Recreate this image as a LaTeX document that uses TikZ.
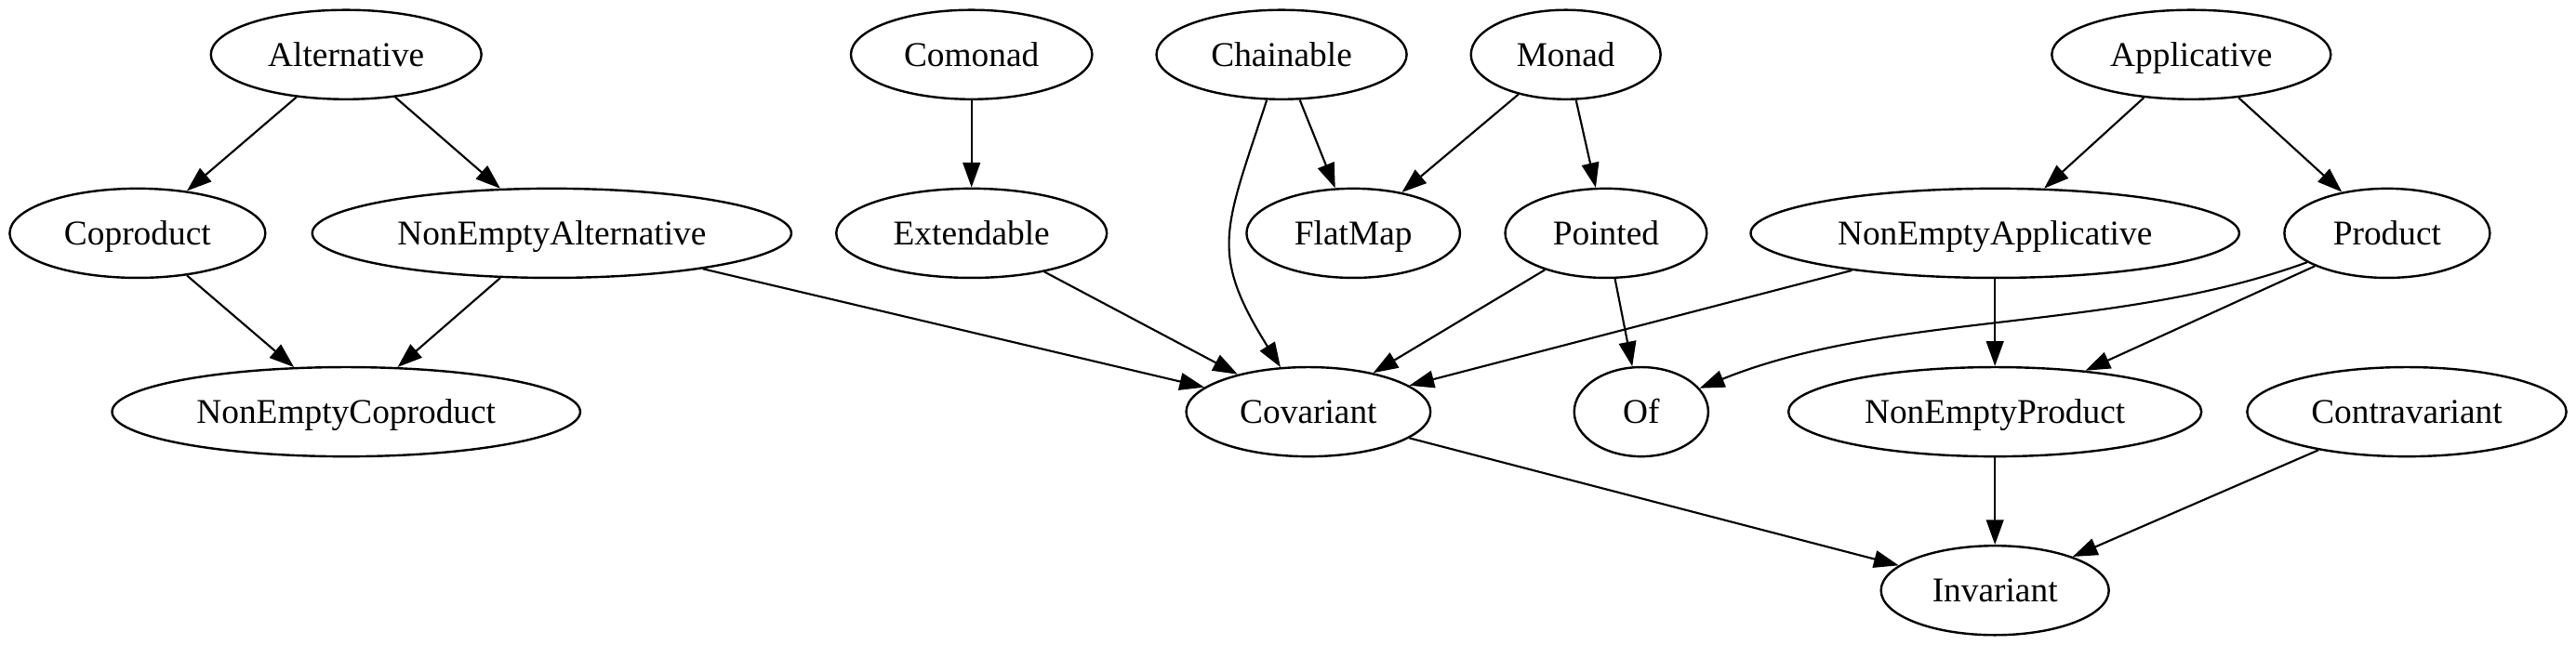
\documentclass[tikz,border=0pt]{standalone}
\usepackage{fontspec}
\setmainfont{Liberation Serif}
\usetikzlibrary{shapes.geometric,arrows.meta}
\begin{document}
\begin{tikzpicture}[x=1pt,y=1pt,
  nd/.style={ellipse, draw, line width=0.9pt, inner sep=0pt, minimum height=36pt, text height=10.2pt, text depth=1pt, font=\fontsize{14}{16}\selectfont},
  edge/.style={line width=0.8pt, -{Triangle[length=10pt,width=7pt]}}]
\useasboundingbox (0,0) rectangle (1037.8,-260);
% rank 1
\node[nd, minimum width=109pt]   (alt)    at (139.45,-22) {Alternative};
\node[nd, minimum width=97.2pt]  (comon)  at (391.4,-22)  {Comonad};
\node[nd, minimum width=100.8pt] (chain)  at (516.3,-22)  {Chainable};
\node[nd, minimum width=76.4pt]  (monad)  at (630.8,-22)  {Monad};
\node[nd, minimum width=112.4pt] (app)    at (882.8,-22)  {Applicative};
% rank 2
\node[nd, minimum width=103pt]   (coprod) at (55.4,-94)   {Coproduct};
\node[nd, minimum width=193pt]   (nea)    at (222.3,-94)  {NonEmptyAlternative};
\node[nd, minimum width=109pt]   (ext)    at (391.4,-94)  {Extendable};
\node[nd, minimum width=86pt]    (flat)   at (545.2,-94)  {FlatMap};
\node[nd, minimum width=81.2pt]  (point)  at (647,-94)    {Pointed};
\node[nd, minimum width=196.8pt] (nap)    at (803.7,-94)  {NonEmptyApplicative};
\node[nd, minimum width=82.8pt]  (prod)   at (961.7,-94)  {Product};
% rank 3
\node[nd, minimum width=188.6pt] (nec)    at (139.45,-166) {NonEmptyCoproduct};
\node[nd, minimum width=98.4pt]  (cov)    at (527.1,-166) {Covariant};
\node[nd, minimum width=54pt]    (of)     at (661.2,-166) {Of};
\node[nd, minimum width=166.4pt] (nep)    at (803.7,-166) {NonEmptyProduct};
\node[nd, minimum width=128.6pt] (contra) at (969.6,-166) {Contravariant};
% rank 4
\node[nd, minimum width=91.8pt]  (inv)    at (803.7,-238) {Invariant};
% edges
\draw[edge] (alt) -- (coprod);
\draw[edge] (alt) -- (nea);
\draw[edge] (coprod) -- (nec);
\draw[edge] (nea) -- (nec);
\draw[edge] (nea) -- (cov);
\draw[edge] (comon) -- (ext);
\draw[edge] (ext) -- (cov);
\draw[edge] (chain) -- (flat);
\draw[edge] (chain) to[out=-108,in=122,looseness=1.3] (cov);
\draw[edge] (monad) -- (flat);
\draw[edge] (monad) -- (point);
\draw[edge] (point) -- (cov);
\draw[edge] (point) -- (of);
\draw[edge] (app) -- (nap);
\draw[edge] (app) -- (prod);
\draw[edge] (nap) -- (cov);
\draw[edge] (nap) -- (nep);
\draw[edge] (prod) to[out=200,in=22,looseness=0.85] (of);
\draw[edge] (prod) -- (nep);
\draw[edge] (cov) -- (inv);
\draw[edge] (nep) -- (inv);
\draw[edge] (contra) -- (inv);
\end{tikzpicture}
\end{document}
